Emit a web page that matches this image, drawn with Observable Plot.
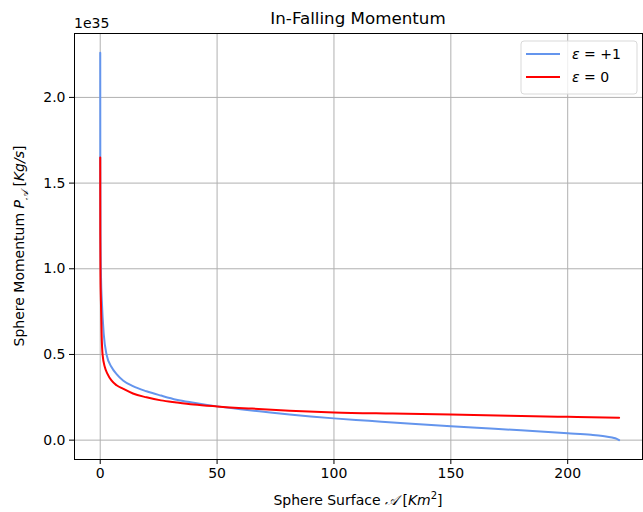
<!DOCTYPE html>
<html>
<head>
<meta charset="utf-8">
<script src="https://cdn.jsdelivr.net/npm/d3@7"></script>
<script src="https://cdn.jsdelivr.net/npm/@observablehq/plot@0.6"></script>
<style>
  html, body { margin: 0; padding: 0; background: #fff; }
  #chart svg { display: block; }
</style>
</head>
<body>
<div id="chart"></div>
<script>
// Values in units of 1e35 Kg/s
const blueA = [0.01, 0.04, 0.15, 0.35, 0.7, 1.5, 2.7, 4.9, 7, 9.9, 14, 19.8, 26, 32.6, 40, 50, 60, 70, 81, 90, 100, 115, 130, 150, 165, 180, 200, 210, 215, 219, 221, 222];
const blueP = [2.26, 1.60, 1.15, 0.95, 0.81, 0.62, 0.50, 0.425, 0.385, 0.347, 0.315, 0.285, 0.260, 0.236, 0.218, 0.197, 0.180, 0.165, 0.149, 0.138, 0.127, 0.113, 0.099, 0.081, 0.069, 0.057, 0.040, 0.031, 0.024, 0.015, 0.007, 0.0];
const redA = [0.01, 0.04, 0.12, 0.3, 0.6, 1.0, 2.0, 3.0, 4.9, 7, 9.9, 14, 19.8, 26, 32.6, 40, 50, 65, 81, 100, 125, 150, 175, 200, 222];
const redP = [1.65, 1.20, 0.95, 0.81, 0.62, 0.50, 0.425, 0.39, 0.347, 0.32, 0.299, 0.272, 0.250, 0.232, 0.220, 0.208, 0.197, 0.184, 0.172, 0.162, 0.155, 0.149, 0.142, 0.136, 0.131];
const seriesNames = ["ε = +1", "ε = 0"];
const seriesColors = ["#6495ED", "#FF0000"];
const xTicks = [0, 50, 100, 150, 200];
const yTicks = [0, 0.5, 1.0, 1.5, 2.0];

const blueData = blueA.map((a, i) => ({A: a, P: blueP[i], s: seriesNames[0]}));
const redData = redA.map((a, i) => ({A: a, P: redP[i], s: seriesNames[1]}));

const W = 643, H = 512;
const font = "DejaVu Sans, sans-serif";

const chart = Plot.plot({
  width: W, height: H,
  marginLeft: 74, marginRight: 1, marginTop: 33, marginBottom: 53,
  style: {fontFamily: font, fontSize: "14px", color: "#000", background: "#fff"},
  x: {domain: [-11, 232], label: null},
  y: {domain: [-0.113, 2.373], label: null},
  marks: [
    Plot.gridX(xTicks, {stroke: "#b0b0b0", strokeOpacity: 1, strokeWidth: 1}),
    Plot.gridY(yTicks, {stroke: "#b0b0b0", strokeOpacity: 1, strokeWidth: 1}),
    Plot.line(blueData, {x: "A", y: "P", stroke: seriesColors[0], strokeWidth: 2, curve: "monotone-x"}),
    Plot.line(redData, {x: "A", y: "P", stroke: seriesColors[1], strokeWidth: 2, curve: "monotone-x"}),
    Plot.frame({stroke: "#000", strokeWidth: 1}),
    Plot.axisX(xTicks, {tickSize: 5, tickPadding: 4, tickFormat: d => String(d), fontSize: 14, label: null}),
    Plot.axisY(yTicks, {tickSize: 5, tickPadding: 4, tickFormat: d3.format(".1f"), fontSize: 14, label: null})
  ]
});

document.getElementById("chart").appendChild(chart);

const svg = d3.select(chart);
const cx = 74 + (W - 1 - 74) / 2;
// Title
svg.append("text").attr("x", cx).attr("y", 24).attr("text-anchor", "middle")
  .attr("font-family", font).attr("font-size", 16.7).attr("fill", "#000").text("In-Falling Momentum");
// Offset text
svg.append("text").attr("x", 74).attr("y", 28).attr("text-anchor", "start").attr("font-family", font).attr("font-size", 14)
  .attr("fill", "#000").text("1e35");
// X label
const xl = svg.append("text").attr("x", cx).attr("y", 505).attr("text-anchor", "middle")
  .attr("font-family", font).attr("font-size", 14).attr("fill", "#000");
xl.append("tspan").text("Sphere Surface ");
xl.append("tspan").attr("font-style", "italic").text("𝒜");
xl.append("tspan").text("\u00a0[");
xl.append("tspan").attr("font-style", "italic").text("Km");
xl.append("tspan").attr("font-size", 10).attr("dy", -6).text("2");
xl.append("tspan").attr("dy", 6).text("]");
// Y label
const yl = svg.append("text").attr("transform", `translate(24,${33 + (459 - 33) / 2}) rotate(-90)`)
  .attr("text-anchor", "middle").attr("font-family", font).attr("font-size", 14).attr("fill", "#000");
yl.append("tspan").text("Sphere Momentum ");
yl.append("tspan").attr("font-style", "italic").text("P");
yl.append("tspan").attr("font-size", 10).attr("dy", 4).attr("font-style", "italic").text("𝒜");
yl.append("tspan").attr("dy", -4).text("\u00a0[");
yl.append("tspan").attr("font-style", "italic").text("Kg/s");
yl.append("tspan").text("]");
// Legend
const lg = svg.append("g");
lg.append("rect").attr("x", 521).attr("y", 41).attr("width", 116).attr("height", 53).attr("rx", 3)
  .attr("fill", "#fff").attr("fill-opacity", 0.8).attr("stroke", "#d9d9d9").attr("stroke-width", 1);
seriesNames.forEach((name, i) => {
  const y = 54 + i * 23;
  lg.append("line").attr("x1", 526).attr("x2", 560).attr("y1", y).attr("y2", y)
    .attr("stroke", seriesColors[i]).attr("stroke-width", 2);
  const t = lg.append("text").attr("x", 572).attr("y", y + 5).attr("text-anchor", "start").attr("font-family", font)
    .attr("font-size", 14).attr("fill", "#000");
  t.append("tspan").attr("font-style", "italic").text("ε");
  t.append("tspan").text(name.slice(1));
});
</script>
</body>
</html>
